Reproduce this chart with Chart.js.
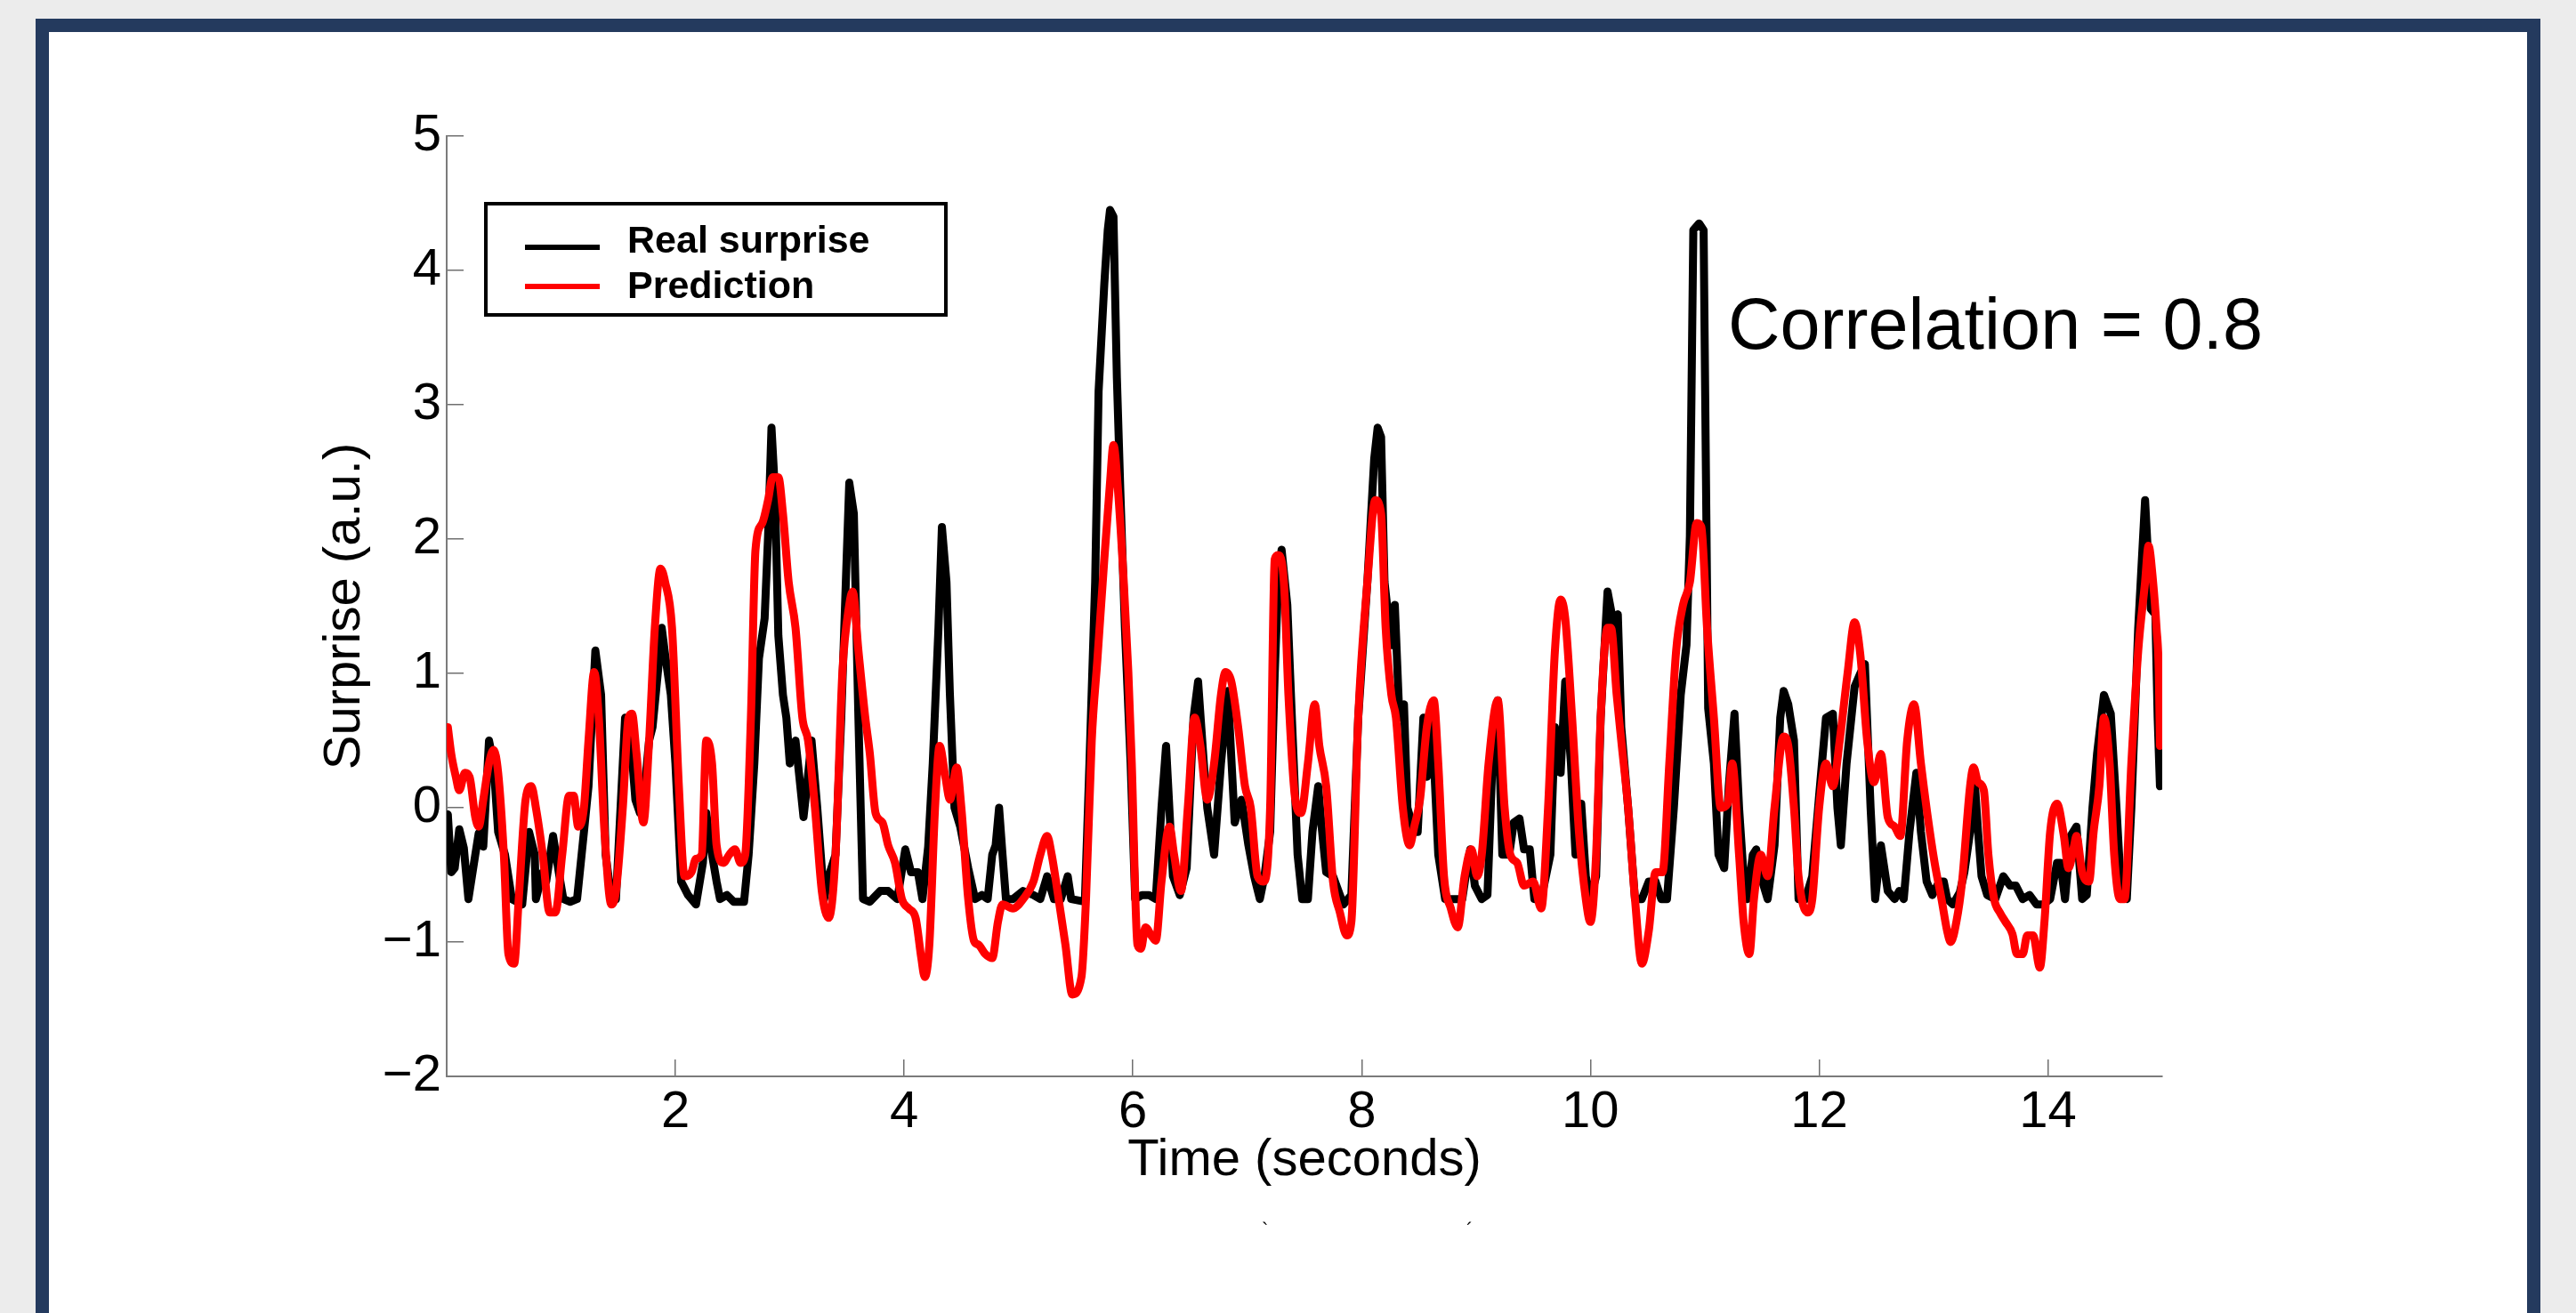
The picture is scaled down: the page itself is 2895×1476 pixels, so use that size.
<!DOCTYPE html>
<html>
<head>
<meta charset="utf-8">
<script src="https://cdn.jsdelivr.net/npm/chart.js@4.4.1/dist/chart.umd.min.js"></script>
<style>
  html, body { margin: 0; padding: 0; background: #ececec; overflow: hidden; }
  #frame { position: absolute; left: 40px; top: 21px; width: 2785px; height: 1500px;
           border: 15px solid #243a5e; border-bottom: none; background: #fff; }
  #wrap { position: absolute; left: 0; top: 0; width: 2895px; height: 1476px; }
</style>
</head>
<body>
<div id="frame"></div>
<div id="wrap"><canvas id="surprise-chart" width="2895" height="1476"></canvas></div>
<script>
// time axis (seconds) and values
const realTime = [
  0.01,0.04,0.07,0.11,0.15,0.19,0.25,0.28,0.32,0.37,0.41,0.45,0.51,0.57,0.66,0.72,0.77,0.78,0.84,0.87,
  0.93,0.98,1.02,1.08,1.14,1.20,1.24,1.30,1.35,1.39,1.44,1.48,1.56,1.60,1.65,1.69,1.74,1.77,1.80,1.85,
  1.88,1.91,1.96,2.00,2.05,2.11,2.18,2.24,2.27,2.32,2.36,2.39,2.45,2.51,2.60,2.64,2.69,2.73,2.78,2.81,
  2.84,2.87,2.90,2.94,2.97,3.00,3.05,3.08,3.12,3.15,3.19,3.24,3.30,3.34,3.40,3.45,3.49,3.52,3.56,3.60,
  3.64,3.70,3.79,3.86,3.94,4.01,4.06,4.12,4.16,4.21,4.25,4.30,4.33,4.37,4.40,4.44,4.49,4.56,4.62,4.68,
  4.73,4.77,4.80,4.83,4.86,4.89,4.95,5.04,5.13,5.19,5.25,5.31,5.37,5.43,5.46,5.58,5.62,5.67,5.70,5.75,
  5.78,5.80,5.83,5.86,5.89,5.93,5.98,6.02,6.08,6.14,6.20,6.25,6.29,6.35,6.41,6.47,6.53,6.57,6.62,6.65,
  6.71,6.77,6.83,6.89,6.95,7.01,7.06,7.11,7.15,7.20,7.24,7.27,7.30,7.35,7.39,7.44,7.48,7.53,7.57,7.62,
  7.65,7.69,7.75,7.84,7.91,7.97,8.05,8.11,8.14,8.17,8.20,8.26,8.29,8.33,8.37,8.40,8.46,8.49,8.54,8.57,
  8.61,8.67,8.73,8.82,8.88,8.92,8.95,8.99,9.05,9.10,9.14,9.19,9.23,9.29,9.33,9.38,9.42,9.47,9.51,9.57,
  9.65,9.69,9.74,9.78,9.83,9.87,9.92,9.96,10.00,10.05,10.09,10.15,10.20,10.24,10.27,10.33,10.39,10.45,10.51,10.57,
  10.62,10.67,10.73,10.79,10.84,10.87,10.90,10.95,10.99,11.03,11.08,11.12,11.17,11.21,11.26,11.30,11.34,11.37,11.42,11.45,
  11.49,11.55,11.61,11.66,11.69,11.73,11.78,11.82,11.88,11.94,12.00,12.06,12.12,12.16,12.19,12.24,12.31,12.36,12.40,12.45,
  12.49,12.54,12.60,12.66,12.70,12.74,12.79,12.85,12.89,12.94,12.99,13.05,13.09,13.12,13.17,13.23,13.27,13.32,13.36,13.39,
  13.42,13.47,13.54,13.61,13.67,13.72,13.78,13.84,13.90,13.96,14.02,14.08,14.11,14.15,14.20,14.25,14.30,14.34,14.39,14.43,
  14.49,14.55,14.60,14.64,14.69,14.73,14.79,14.85,14.90,14.94,14.96,14.98
];
const realSurprise = [
  -0.05,-0.48,-0.45,-0.16,-0.30,-0.68,-0.35,-0.19,-0.29,0.50,0.33,-0.18,-0.35,-0.68,-0.72,-0.18,-0.35,-0.68,-0.48,-0.55,
  -0.21,-0.48,-0.68,-0.70,-0.68,-0.18,0.16,1.17,0.84,-0.35,-0.68,-0.68,0.67,0.60,0.06,-0.04,0.23,0.50,0.60,1.04,
  1.34,1.14,0.84,0.33,-0.55,-0.65,-0.72,-0.41,-0.04,-0.35,-0.55,-0.68,-0.65,-0.70,-0.70,-0.35,0.33,1.11,1.41,2.02,
  2.83,2.36,1.28,0.84,0.67,0.33,0.50,0.26,-0.07,0.16,0.50,0.00,-0.68,-0.51,-0.35,0.67,1.68,2.42,2.19,0.67,
  -0.68,-0.70,-0.62,-0.62,-0.68,-0.31,-0.48,-0.48,-0.68,-0.29,0.33,1.34,2.09,1.68,0.84,0.00,-0.14,-0.45,-0.68,-0.65,
  -0.68,-0.35,-0.28,0.00,-0.35,-0.68,-0.68,-0.62,-0.65,-0.68,-0.51,-0.68,-0.68,-0.51,-0.68,-0.70,0.33,1.68,3.10,3.90,
  4.30,4.45,4.40,3.20,2.36,1.34,0.33,-0.68,-0.65,-0.65,-0.68,0.00,0.46,-0.51,-0.65,-0.45,0.67,0.94,0.33,0.00,
  -0.35,0.33,0.87,-0.11,0.06,-0.28,-0.51,-0.68,-0.51,-0.18,1.00,1.68,1.92,1.51,0.67,-0.35,-0.68,-0.68,-0.18,0.16,
  -0.14,-0.48,-0.51,-0.72,-0.65,0.67,1.68,2.60,2.83,2.76,1.68,1.21,1.51,0.67,0.77,0.00,-0.18,-0.18,0.67,0.23,
  0.75,-0.35,-0.68,-0.68,-0.68,-0.45,-0.31,-0.58,-0.68,-0.65,0.26,0.80,-0.35,-0.35,-0.11,-0.08,-0.31,-0.31,-0.68,-0.68,
  -0.35,0.60,0.26,0.94,0.33,-0.35,0.03,-0.51,-0.68,-0.51,0.67,1.61,1.38,1.44,0.60,0.00,-0.68,-0.68,-0.55,-0.55,
  -0.68,-0.68,0.00,0.84,1.21,2.02,4.30,4.35,4.30,0.74,0.33,-0.35,-0.45,0.16,0.70,0.00,-0.51,-0.68,-0.35,-0.31,
  -0.51,-0.68,-0.28,0.67,0.87,0.77,0.50,-0.68,-0.68,-0.51,0.09,0.67,0.70,0.00,-0.28,0.33,0.90,1.00,1.07,0.00,
  -0.68,-0.28,-0.62,-0.68,-0.62,-0.68,-0.18,0.26,-0.18,-0.55,-0.65,-0.55,-0.55,-0.68,-0.72,-0.63,-0.48,-0.18,0.20,-0.18,
  -0.51,-0.65,-0.68,-0.51,-0.58,-0.58,-0.68,-0.65,-0.72,-0.72,-0.68,-0.41,-0.41,-0.68,-0.21,-0.14,-0.68,-0.65,0.00,0.40,
  0.84,0.70,0.00,-0.62,-0.68,0.00,1.34,2.29,1.48,1.44,0.67,0.16
];
const predTime = [
  0.01,0.04,0.08,0.11,0.16,0.20,0.25,0.28,0.32,0.37,0.41,0.45,0.50,0.54,0.59,0.63,0.69,0.74,0.78,0.84,
  0.90,0.95,1.01,1.07,1.11,1.15,1.20,1.24,1.29,1.33,1.38,1.44,1.48,1.54,1.59,1.62,1.66,1.72,1.77,1.82,
  1.87,1.91,1.97,2.03,2.08,2.14,2.18,2.23,2.27,2.32,2.36,2.42,2.47,2.52,2.57,2.61,2.66,2.70,2.76,2.81,
  2.85,2.90,2.94,2.99,3.05,3.11,3.16,3.22,3.28,3.34,3.40,3.46,3.52,3.55,3.60,3.66,3.70,3.75,3.81,3.86,
  3.92,3.98,4.04,4.10,4.15,4.18,4.22,4.27,4.31,4.36,4.40,4.46,4.50,4.56,4.61,4.65,4.71,4.77,4.82,4.86,
  4.95,5.04,5.13,5.19,5.25,5.29,5.34,5.41,5.47,5.55,5.59,5.64,5.69,5.75,5.80,5.83,5.87,5.92,5.96,5.99,
  6.04,6.07,6.11,6.16,6.20,6.25,6.32,6.36,6.42,6.48,6.54,6.59,6.65,6.71,6.77,6.81,6.86,6.92,6.98,7.03,
  7.09,7.14,7.20,7.24,7.27,7.32,7.36,7.42,7.47,7.53,7.59,7.63,7.69,7.75,7.81,7.87,7.91,7.97,8.05,8.12,
  8.17,8.21,8.26,8.30,8.36,8.42,8.46,8.51,8.57,8.63,8.67,8.72,8.78,8.84,8.90,8.96,9.01,9.05,9.11,9.19,
  9.25,9.30,9.36,9.42,9.50,9.57,9.63,9.69,9.74,9.78,9.84,9.90,9.96,10.00,10.05,10.09,10.15,10.18,10.23,10.27,
  10.33,10.39,10.45,10.51,10.57,10.63,10.69,10.75,10.81,10.87,10.93,10.97,11.02,11.08,11.14,11.20,11.24,11.30,11.34,11.39,
  11.43,11.49,11.55,11.61,11.69,11.73,11.78,11.82,11.90,11.94,12.00,12.06,12.12,12.18,12.25,12.31,12.36,12.42,12.48,12.54,
  12.60,12.66,12.71,12.77,12.83,12.89,12.95,13.01,13.07,13.12,13.15,13.20,13.25,13.32,13.35,13.39,13.44,13.48,13.53,13.58,
  13.63,13.69,13.73,13.78,13.82,13.87,13.93,13.97,14.02,14.08,14.14,14.18,14.23,14.25,14.30,14.36,14.40,14.45,14.49,14.54,
  14.58,14.63,14.67,14.73,14.79,14.85,14.88,14.92,14.95,14.97,14.98
];
const prediction = [
  0.60,0.40,0.23,0.13,0.26,0.23,-0.07,-0.14,0.06,0.33,0.43,0.26,-0.35,-1.09,-1.16,-0.68,0.06,0.16,0.00,-0.35,
  -0.78,-0.78,-0.35,0.09,0.09,-0.14,0.00,0.50,1.01,0.67,-0.18,-0.72,-0.62,0.00,0.67,0.70,0.40,-0.11,0.50,1.34,
  1.78,1.68,1.34,0.16,-0.51,-0.48,-0.38,-0.35,0.50,0.33,-0.28,-0.41,-0.35,-0.31,-0.41,-0.35,0.67,1.92,2.12,2.29,
  2.46,2.46,2.19,1.68,1.34,0.67,0.50,0.00,-0.62,-0.82,-0.35,1.01,1.51,1.61,1.17,0.67,0.40,-0.04,-0.11,-0.28,
  -0.41,-0.68,-0.75,-0.82,-1.12,-1.26,-1.02,0.00,0.46,0.23,0.06,0.30,0.00,-0.68,-0.99,-1.02,-1.09,-1.12,-0.85,-0.72,
  -0.75,-0.68,-0.55,-0.35,-0.21,-0.35,-0.62,-1.02,-1.39,-1.26,-0.68,0.50,1.11,1.85,2.42,2.70,2.36,1.68,1.01,0.33,
  -1.02,-1.05,-0.89,-0.95,-0.99,-0.55,-0.14,-0.35,-0.62,0.00,0.67,0.46,0.06,0.33,0.84,1.01,0.94,0.60,0.16,0.00,
  -0.51,-0.55,0.00,1.85,1.88,1.68,0.84,0.06,-0.04,0.33,0.77,0.46,0.16,-0.55,-0.78,-0.95,-0.85,0.67,1.68,2.29,
  2.19,1.34,0.84,0.67,0.00,-0.28,-0.14,0.06,0.60,0.80,0.33,-0.51,-0.75,-0.89,-0.51,-0.31,-0.51,-0.35,0.33,0.80,
  0.00,-0.35,-0.41,-0.58,-0.55,-0.75,0.00,1.17,1.55,1.41,0.67,-0.18,-0.68,-0.85,-0.35,0.67,1.34,1.34,0.84,0.50,
  0.00,-0.68,-1.16,-0.92,-0.48,-0.48,0.33,1.17,1.51,1.68,2.12,2.09,1.34,0.67,0.00,0.03,0.33,-0.35,-0.85,-1.09,
  -0.68,-0.35,-0.51,0.00,0.53,0.46,0.00,-0.51,-0.78,-0.68,0.00,0.33,0.16,0.50,1.01,1.38,1.14,0.50,0.19,0.40,
  -0.07,-0.14,-0.21,0.50,0.77,0.33,-0.07,-0.41,-0.68,-0.92,-1.00,-0.85,-0.55,0.16,0.30,0.19,0.13,-0.35,-0.68,-0.78,
  -0.85,-0.94,-1.09,-1.09,-0.95,-0.95,-1.19,-0.85,-0.18,0.03,-0.21,-0.45,-0.28,-0.21,-0.48,-0.55,-0.18,0.16,0.67,0.33,
  -0.35,-0.68,-0.68,0.33,1.17,1.68,1.95,1.68,1.34,1.01,0.46
];
const xTicks = [2, 4, 6, 8, 10, 12, 14];
const yTicks = [-2, -1, 0, 1, 2, 3, 4, 5];
const seriesLabels = ['Real surprise', 'Prediction'];
const seriesColors = ['#000000', '#ff0000'];

const FONT = "'Liberation Sans', Arial, Helvetica, sans-serif";
const minus = v => String(v).replace('-', '\u2212');

// boxed legend in the upper left, like the matlab one
const boxLegend = {
  id: 'boxLegend',
  afterDraw(chart) {
    const ctx = chart.ctx;
    const ds = chart.data.datasets;
    ctx.save();
    ctx.fillStyle = '#fff';
    ctx.fillRect(546, 229, 517, 125);
    ctx.lineWidth = 4;
    ctx.strokeStyle = '#000';
    ctx.strokeRect(546, 229, 517, 125);
    ctx.font = 'bold 43px ' + FONT;
    ctx.textBaseline = 'alphabetic';
    [[278, 284], [322, 335]].forEach((row, i) => {
      ctx.beginPath();
      ctx.lineWidth = 6;
      ctx.strokeStyle = ds[i].borderColor;
      ctx.moveTo(590, row[0]);
      ctx.lineTo(674, row[0]);
      ctx.stroke();
      ctx.fillStyle = '#000';
      ctx.fillText(ds[i].label, 705, row[1]);
    });
    ctx.restore();
  }
};

// correlation note + the two stray marks under the x title
const noteText = {
  id: 'noteText',
  afterDraw(chart) {
    const ctx = chart.ctx;
    ctx.save();
    ctx.fillStyle = '#000';
    ctx.textBaseline = 'alphabetic';
    ctx.font = '81px ' + FONT;
    ctx.fillText('Correlation = 0.8', 1942, 392);
    ctx.font = '22px ' + FONT;
    ctx.fillText('`', 1418, 1390);
    ctx.fillText('\u00b4', 1648, 1390);
    ctx.restore();
  }
};

const ctx = document.getElementById('surprise-chart');
const surpriseChart = new Chart(ctx, {
  type: 'line',
  data: {
    datasets: [{
      label: seriesLabels[0],
      data: realTime.map((t, i) => ({x: t, y: realSurprise[i]})),
      borderColor: seriesColors[0],
      borderWidth: 9,
      pointRadius: 0,
      tension: 0,
      borderJoinStyle: 'round',
      borderCapStyle: 'round',
      order: 1
    }, {
      label: seriesLabels[1],
      data: predTime.map((t, i) => ({x: t, y: prediction[i]})),
      borderColor: seriesColors[1],
      borderWidth: 9,
      pointRadius: 0,
      cubicInterpolationMode: 'monotone',
      borderJoinStyle: 'round',
      borderCapStyle: 'round',
      order: 0
    }]
  },
  options: {
    responsive: false,
    animation: false,
    layout: { padding: { top: 153, right: 465, left: 0, bottom: 0 } },
    plugins: { legend: { display: false }, tooltip: { enabled: false } },
    scales: {
      x: {
        type: 'linear', min: 0, max: 15,
        afterBuildTicks: s => { s.ticks = xTicks.map(v => ({value: v})); },
        afterFit: s => { s.height = 266; },
        border: { display: true, color: '#7b7b7b', width: 2 },
        grid: { drawOnChartArea: false, drawTicks: true, tickLength: -19, color: '#6f6f6f', lineWidth: 1.5 },
        ticks: { padding: 25, color: '#000', maxRotation: 0, autoSkip: false, font: { family: FONT, size: 58 } },
        title: { display: true, text: 'Time (seconds)', color: '#000',
                 font: { family: FONT, size: 58 }, padding: { top: 0, bottom: 136 } }
      },
      y: {
        type: 'linear', min: -2, max: 5,
        afterBuildTicks: s => { s.ticks = yTicks.map(v => ({value: v})); },
        afterFit: s => { s.width = 502; },
        border: { display: true, color: '#7b7b7b', width: 2 },
        grid: { drawOnChartArea: false, drawTicks: true, tickLength: -19, color: '#6f6f6f', lineWidth: 1.5 },
        ticks: { padding: 25, color: '#000', font: { family: FONT, size: 58 }, callback: v => minus(v) },
        title: { display: true, text: 'Surprise (a.u.)', color: '#000',
                 font: { family: FONT, size: 58 }, padding: { top: 353, bottom: 0 } }
      }
    }
  },
  plugins: [boxLegend, noteText]
});
</script>
</body>
</html>
